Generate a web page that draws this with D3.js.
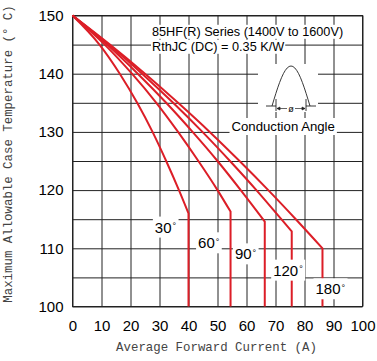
<!DOCTYPE html>
<html>
<head>
<meta charset="utf-8">
<script src="https://cdn.jsdelivr.net/npm/d3@7"></script>
<style>
  body { margin: 0; background: #fff; }
  svg { display: block; }
</style>
</head>
<body>
<div id="chart"></div>
<script>
// values: [average current (A), case temperature (°C)]
var angleLabels = ["30", "60", "90", "120", "180"];
var curve30  = [[0,150],[9.3,145],[16.3,140],[22.3,135],[27.6,130],[32.3,125],[36.7,120],[40,116]];
var curve60  = [[0,150],[11.1,145],[20.5,140],[28.9,135],[36.4,130],[43.4,125],[50,120],[54.5,116.3]];
var curve90  = [[0,150],[11.9,145],[22.5,140],[32.3,135],[41.4,130],[50,125],[58,120],[66.3,114.6]];
var curve120 = [[0,150],[12.5,145],[24,140],[34.7,135],[44.8,130],[54.3,125],[63.4,120],[72,115],[75.6,112.9]];
var curve180 = [[0,150],[12.9,145],[25,140],[36.4,135],[47.3,130],[57.6,125],[67.5,120],[77,115],[86.2,110]];
var curves = [curve30, curve60, curve90, curve120, curve180];

var xTicks = [0, 10, 20, 30, 40, 50, 60, 70, 80, 90, 100];
var yGrid = [100, 105, 110, 115, 120, 125, 130, 135, 140, 145, 150];
var titleLines = ["85HF(R) Series (1400V to 1600V)", "RthJC (DC) = 0.35 K/W"];
var iconLabel = "Conduction Angle";
var xTitle = "Average Forward Current (A)";
var yTitle = "Maximum Allowable Case Temperature (\u00b0 C)";

// label placement, in data units (x left edge, y baseline)
var labelAt = [[28.4,112.7],[43.3,110],[56,108.1],[69.2,105.3],[83.8,102.1]];

var width = 377, height = 361;
var plotL = 72.5, plotR = 362.5, plotT = 15.5, plotB = 306.5;
var red = "#dc1e27";

var svg = d3.select("#chart").append("svg")
  .attr("width", width)
  .attr("height", height);

var x = d3.scaleLinear().domain([0, 100]).range([plotL, plotR]);
var y = d3.scaleLinear().domain([100, 150]).range([plotB, plotT]);

var sans = "'Liberation Sans', Arial, sans-serif";
var mono = "'Liberation Mono', 'DejaVu Sans Mono', monospace";

// grid through the axes
var xAxis = d3.axisBottom(x)
  .tickValues(xTicks)
  .tickSize(-(plotB - plotT))
  .tickPadding(14);

var yAxis = d3.axisLeft(y)
  .tickValues(yGrid)
  .tickSize(-(plotR - plotL))
  .tickPadding(9)
  .tickFormat(function(d) { return d % 10 === 0 ? d : ""; });

var gx = svg.append("g")
  .attr("transform", "translate(0," + plotB + ")")
  .call(xAxis);
var gy = svg.append("g")
  .attr("transform", "translate(" + plotL + ",0)")
  .call(yAxis);

[gx, gy].forEach(function(g) {
  g.select(".domain").remove();
  g.selectAll(".tick line").attr("stroke", "#222").attr("stroke-width", 1);
  g.selectAll(".tick text")
    .attr("fill", "#000")
    .style("font-family", sans)
    .style("font-size", "15px");
});

svg.append("rect")
  .attr("x", plotL).attr("y", plotT)
  .attr("width", plotR - plotL).attr("height", plotB - plotT)
  .attr("fill", "none")
  .attr("stroke", "#222")
  .attr("stroke-width", 1);

// curves: smooth part then straight drop to the bottom
var line = d3.line()
  .x(function(d) { return x(d[0]); })
  .y(function(d) { return y(d[1]); })
  .curve(d3.curveMonotoneX);

svg.append("g").selectAll("path")
  .data(curves)
  .enter()
  .append("path")
  .attr("d", function(d) { return line(d) + "V" + y(100); })
  .attr("fill", "none")
  .attr("stroke", red)
  .attr("stroke-width", 2);

// text with a white patch behind it (covers grid, like the datasheet)
function boxedText(g, tx, ty, str, size, padX, padY) {
  var bg = g.append("rect").attr("fill", "#fff");
  var t = g.append("text")
    .attr("x", tx).attr("y", ty)
    .style("font-family", sans)
    .style("font-size", size + "px")
    .attr("fill", "#000")
    .text(str);
  return { bg: bg, t: t, padX: padX, padY: padY };
}
function fitBox(b) {
  var bb = b.t.node().getBBox();
  b.bg.attr("x", bb.x - b.padX).attr("y", bb.y - b.padY)
    .attr("width", bb.width + 2 * b.padX).attr("height", bb.height + 2 * b.padY);
}

var notes = svg.append("g");
var t1 = boxedText(notes, 152, 35.8, titleLines[0], 12.7, 1, 0);
var t2 = boxedText(notes, 152, 50.8, titleLines[1], 12.7, 1, 0);
fitBox(t1); fitBox(t2);

// conduction angle sketch
var icon = svg.append("g");
icon.append("rect").attr("x", 258).attr("y", 64).attr("width", 60).attr("height", 48).attr("fill", "#fff");
var arch = d3.range(0, 1.0001, 0.05).map(function(t) {
  return [272 + t * 38, 106 - 40 * Math.sin(Math.PI * t)];
});
icon.append("path")
  .attr("d", d3.line()(arch))
  .attr("fill", "none").attr("stroke", "#222").attr("stroke-width", 0.9);
icon.append("path")
  .attr("d", "M266,106H276M306,106H316M276,99V111M306,99V111")
  .attr("fill", "none").attr("stroke", "#222").attr("stroke-width", 0.9);
icon.append("path")
  .attr("d", "M277,108.5H305M277,108.5l3,-1.5v3zM305,108.5l-3,-1.5v3z")
  .attr("fill", "#222").attr("stroke", "#222").attr("stroke-width", 0.7);
icon.append("rect").attr("x", 287).attr("y", 104).attr("width", 8).attr("height", 8).attr("fill", "#fff");
icon.append("text")
  .attr("x", 291).attr("y", 111.5)
  .attr("text-anchor", "middle")
  .style("font-family", sans).style("font-size", "9px")
  .text("\u00f8");

var t3 = boxedText(svg.append("g"), 231.5, 131, iconLabel, 13.2, 2, 1);
fitBox(t3);

// angle labels
var lab = svg.append("g").selectAll("g")
  .data(angleLabels)
  .enter()
  .append("g");
lab.each(function(d, i) {
  var g = d3.select(this);
  var b = boxedText(g, x(labelAt[i][0]), y(labelAt[i][1]), d, 15, 2, 2);
  b.t.append("tspan")
    .attr("dx", 1).attr("dy", -3.5)
    .style("font-size", "9px")
    .text("\u00b0");
  fitBox(b);
});

// axis titles
svg.append("text")
  .attr("x", (plotL + plotR) / 2 - 1)
  .attr("y", 351)
  .attr("text-anchor", "middle")
  .style("font-family", mono)
  .style("font-size", "12.4px")
  .attr("fill", "#444")
  .text(xTitle);

svg.append("text")
  .attr("transform", "translate(12,154) rotate(-90)")
  .attr("text-anchor", "middle")
  .style("font-family", mono)
  .style("font-size", "12.4px")
  .attr("fill", "#444")
  .text(yTitle);
</script>
</body>
</html>
